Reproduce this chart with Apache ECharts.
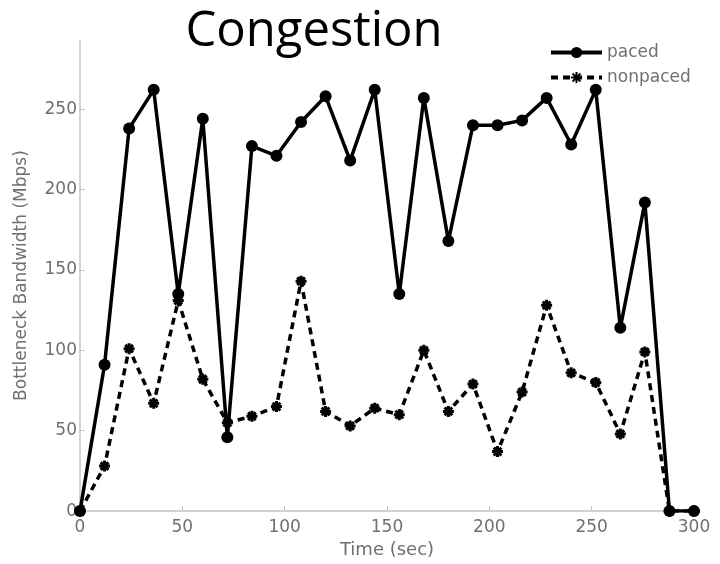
<!DOCTYPE html>
<html>
<head>
<meta charset="utf-8">
<script src="https://cdn.jsdelivr.net/npm/echarts@6/dist/echarts.min.js"></script>
<style>html,body{margin:0;padding:0;background:#fff}#c{width:720px;height:564px}</style>
</head>
<body>
<div id="c"></div>
<script>
const times = [0,12,24,36,48,60,72,84,96,108,120,132,144,156,168,180,192,204,216,228,240,252,264,276,288,300];
const paced = [0,91,238,262,135,244,46,227,221,242,258,218,262,135,257,168,240,240,243,257,228,262,114,192,0,0];
const nonpaced = [0,28,101,67,131,82,55,59,65,143,62,53,64,60,100,62,79,37,74,128,86,80,48,99,0,0];
const yTicks = [0,50,100,150,200,250];
const xTicks = [0,50,100,150,200,250,300];
const seriesNames = ['paced','nonpaced'];

const star = 'path://M0,-10L0,10M-10,0L10,0M-7,-7L7,7M-7,7L7,-7';
const gray = '#707070';
const axisGray = '#c4c4c4';

const chart = echarts.init(document.getElementById('c'));
chart.setOption({
  animation: false,
  backgroundColor: '#fff',
  title: {
    text: 'Congestion',
    left: 309, top: 3, textAlign: 'center',
    textStyle: {fontFamily: 'Open Sans', fontSize: 49, fontWeight: 'normal', color: '#000'}
  },
  legend: {
    data: seriesNames,
    left: 549, top: 44, orient: 'vertical', padding: 0,
    itemWidth: 51, itemHeight: 14, itemGap: 8,
    lineStyle: {width: 4},
    textStyle: {fontFamily: 'DejaVu Sans', fontSize: 17, color: gray}
  },
  grid: {left: 80, right: 26, top: 40, bottom: 50},
  xAxis: {
    type: 'value', min: 0, max: 300, interval: 50,
    name: 'Time (sec)', nameLocation: 'middle', nameGap: 25,
    nameTextStyle: {fontFamily: 'DejaVu Sans', fontSize: 18, color: gray},
    axisLine: {lineStyle: {color: axisGray, width: 1.5}},
    axisTick: {inside: true, length: 5, lineStyle: {color: axisGray}, customValues: xTicks},
    axisLabel: {fontFamily: 'DejaVu Sans', fontSize: 17, color: gray, margin: 8, customValues: xTicks},
    splitLine: {show: false}
  },
  yAxis: {
    type: 'value', min: 0, max: 293,
    name: 'Bottleneck Bandwidth (Mbps)', nameLocation: 'middle', nameGap: 50,
    nameTextStyle: {fontFamily: 'DejaVu Sans', fontSize: 17, color: gray},
    axisLine: {show: true, lineStyle: {color: axisGray, width: 1.5}},
    axisTick: {show: true, inside: true, length: 5, lineStyle: {color: axisGray}, customValues: yTicks},
    axisLabel: {fontFamily: 'DejaVu Sans', fontSize: 17, color: gray, margin: 3, customValues: yTicks},
    splitLine: {show: false}
  },
  series: [
    {
      name: seriesNames[0], type: 'line',
      data: times.map((t, i) => [t, paced[i]]),
      symbol: 'circle', symbolSize: 12,
      lineStyle: {color: '#000', width: 3.5},
      itemStyle: {color: '#000'}
    },
    {
      name: seriesNames[1], type: 'line',
      data: times.map((t, i) => [t, nonpaced[i]]),
      symbol: star, symbolSize: 11,
      lineStyle: {color: '#000', width: 3.5, type: [7, 5]},
      itemStyle: {color: 'none', borderColor: '#000', borderWidth: 3}
    }
  ]
});
</script>
</body>
</html>
